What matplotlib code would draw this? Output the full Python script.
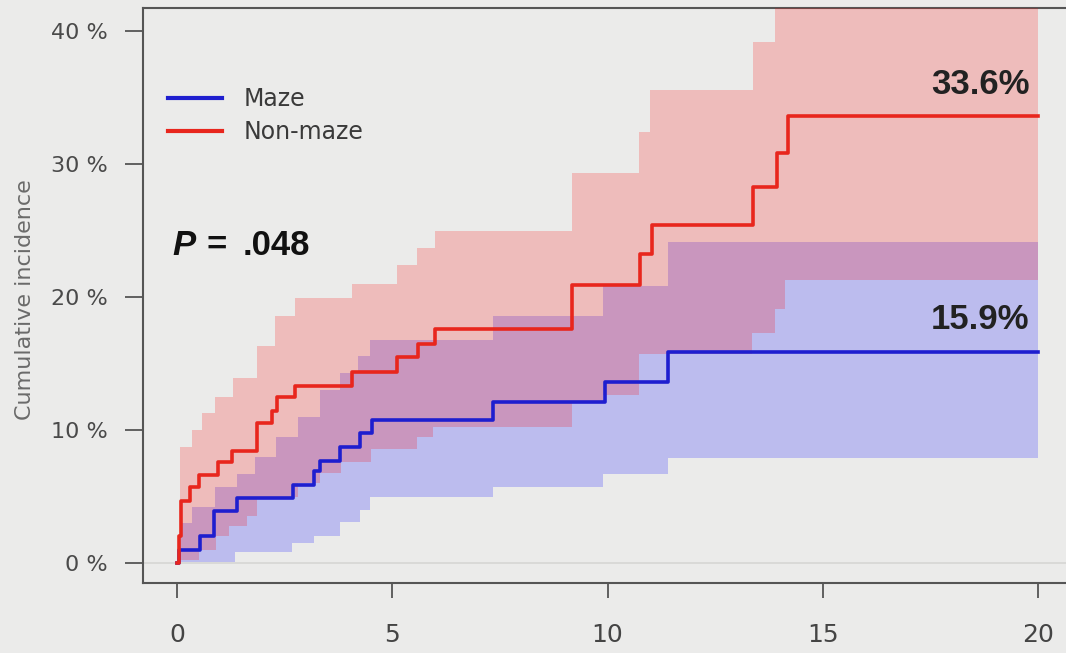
import numpy as np
import matplotlib.pyplot as plt

# Cumulative incidence (%) by year of follow-up, step curves:
# each list gives the times where the level changes and the new level
maze_t = [0, 0.05, 0.53, 0.86, 1.39, 2.70, 3.17, 3.32, 3.79, 4.25, 4.52, 7.35, 9.94, 11.41]
maze_ci = [0, 1.0, 2.0, 3.9, 4.9, 5.9, 6.9, 7.7, 8.7, 9.75, 10.75, 12.1, 13.6, 15.9]
maze_up_t = [0.08, 0.35, 0.88, 1.39, 1.80, 2.30, 2.80, 3.32, 3.79, 4.21, 4.48, 7.35, 9.90, 11.41]
maze_up = [3.0, 4.2, 5.7, 6.7, 8.0, 9.5, 11.0, 13.0, 14.3, 15.6, 16.8, 18.6, 20.8, 24.1]
maze_lo_t = [0.08, 1.35, 2.66, 3.17, 3.79, 4.25, 4.48, 7.35, 9.90, 11.41]
maze_lo = [0.1, 0.85, 1.5, 2.0, 3.1, 4.0, 5.0, 5.7, 6.7, 7.9]

nonmaze_t = [0, 0.04, 0.10, 0.30, 0.50, 0.95, 1.27, 1.85, 2.20, 2.33, 2.74, 4.06,
             5.10, 5.60, 6.00, 9.17, 10.75, 11.03, 13.39, 13.93, 14.18]
nonmaze_ci = [0, 2.0, 4.7, 5.7, 6.6, 7.6, 8.4, 10.5, 11.4, 12.5, 13.3, 14.4,
              15.5, 16.5, 17.6, 20.9, 23.2, 25.4, 28.3, 30.8, 33.6]
nonmaze_up_t = [0.07, 0.34, 0.57, 0.88, 1.31, 1.85, 2.28, 2.74, 4.06, 5.10, 5.57,
                6.00, 9.17, 10.72, 10.99, 13.39, 13.89]
nonmaze_up = [8.7, 10.0, 11.3, 12.5, 13.9, 16.3, 18.6, 19.9, 21.0, 22.4, 23.7,
              25.0, 29.3, 32.4, 35.6, 39.2, 45.0]
nonmaze_lo_t = [0.07, 0.50, 0.90, 1.20, 1.62, 1.85, 2.80, 3.32, 3.80, 4.50, 5.18,
                5.57, 5.95, 9.17, 9.90, 10.72, 13.35, 13.89, 14.12]
nonmaze_lo = [0.2, 1.0, 2.0, 2.8, 3.5, 5.0, 6.0, 6.8, 7.6, 8.6, 8.6,
              9.5, 10.25, 12.1, 12.6, 15.7, 17.3, 19.1, 21.3]

t_end = 20
years = [0, 5, 10, 15, 20]
pct_ticks = [0, 10, 20, 30, 40]

bg = '#ebebea'
blue = '#1e1ecf'
red = '#e8261d'


def step_at(t, v, grid):
    idx = np.searchsorted(t, grid, side='right') - 1
    return np.asarray(v)[idx]


def band(up_t, up, lo_t, lo):
    grid = np.unique(np.concatenate([up_t, lo_t, [t_end]]))
    grid = grid[grid >= max(up_t[0], lo_t[0])]
    return grid, step_at(lo_t, lo, grid), step_at(up_t, up, grid)


def curve(t, v):
    return np.append(t, t_end), np.append(v, v[-1])


fig = plt.figure(figsize=(10.66, 6.53), dpi=100, facecolor=bg)
ax = fig.add_axes([142.6 / 1066, 70 / 653, 929.9 / 1066, 575 / 653], facecolor=bg)
ax.set_xlim(-0.8, 20.8)
ax.set_ylim(-1.5, 41.73)

ax.axhline(0, color='#d6d6d4', lw=1.2, zorder=1)

# confidence bands (blue underneath so the overlap comes out purple)
g, lo, up = band(maze_up_t, maze_up, maze_lo_t, maze_lo)
ax.fill_between(g, lo, up, step='post', color='blue', alpha=0.2, lw=0, zorder=2)
g, lo, up = band(nonmaze_up_t, nonmaze_up, nonmaze_lo_t, nonmaze_lo)
ax.fill_between(g, lo, up, step='post', color='red', alpha=0.2, lw=0, zorder=3)

x, y = curve(maze_t, maze_ci)
ax.step(x, y, where='post', color=blue, lw=2.6, zorder=5, label='Maze')
x, y = curve(nonmaze_t, nonmaze_ci)
ax.step(x, y, where='post', color=red, lw=2.6, zorder=5, label='Non-maze')

for ci in [maze_ci[-1], nonmaze_ci[-1]]:
    ax.annotate(f"{ci:.1f}%", xy=(t_end, ci), xytext=(-6, 11), textcoords='offset points',
                ha='right', va='bottom', fontsize=25, fontweight='bold',
                family='Liberation Sans', color='#222222', zorder=6)

leg = ax.legend(loc='upper left', bbox_to_anchor=(168 / 1066, 1 - 87 / 653),
                bbox_transform=fig.transFigure, frameon=False, fontsize=17,
                handlelength=2.3, handletextpad=0.9, labelspacing=0.4,
                borderpad=0, borderaxespad=0)
for txt in leg.get_texts():
    txt.set_color('#3a3a3a')
for ln in leg.get_lines():
    ln.set_linewidth(3)

# p-value, italic P
fig.text(172 / 1066, 1 - 255 / 653, 'P', fontsize=25, fontweight='bold', style='italic',
         family='Liberation Sans', color='#111111', va='baseline')
fig.text(207 / 1066, 1 - 255 / 653, '=', fontsize=25, fontweight='bold',
         family='Liberation Sans', color='#111111', va='baseline')
fig.text(243 / 1066, 1 - 255 / 653, '.048', fontsize=25, fontweight='bold',
         family='Liberation Sans', color='#111111', va='baseline')

ax.set_xticks(years)
ax.set_xticklabels([str(v) for v in years])
ax.set_yticks(pct_ticks)
ax.set_yticklabels([f"{v} %" for v in pct_ticks])
ax.tick_params(axis='x', length=11, width=1.3, color='#555555', pad=18,
               labelsize=18, labelcolor='#444444')
ax.tick_params(axis='y', length=13, width=1.3, color='#555555', pad=12,
               labelsize=16, labelcolor='#4a4a4a')
for s in ax.spines.values():
    s.set_color('#555555')
    s.set_linewidth(1.5)

fig.text(25 / 1066, 1 - 300 / 653, 'Cumulative incidence', rotation=90,
         ha='center', va='center', fontsize=16, color='#6a6a6a')

fig.savefig('out.png', dpi=100, facecolor=bg)
